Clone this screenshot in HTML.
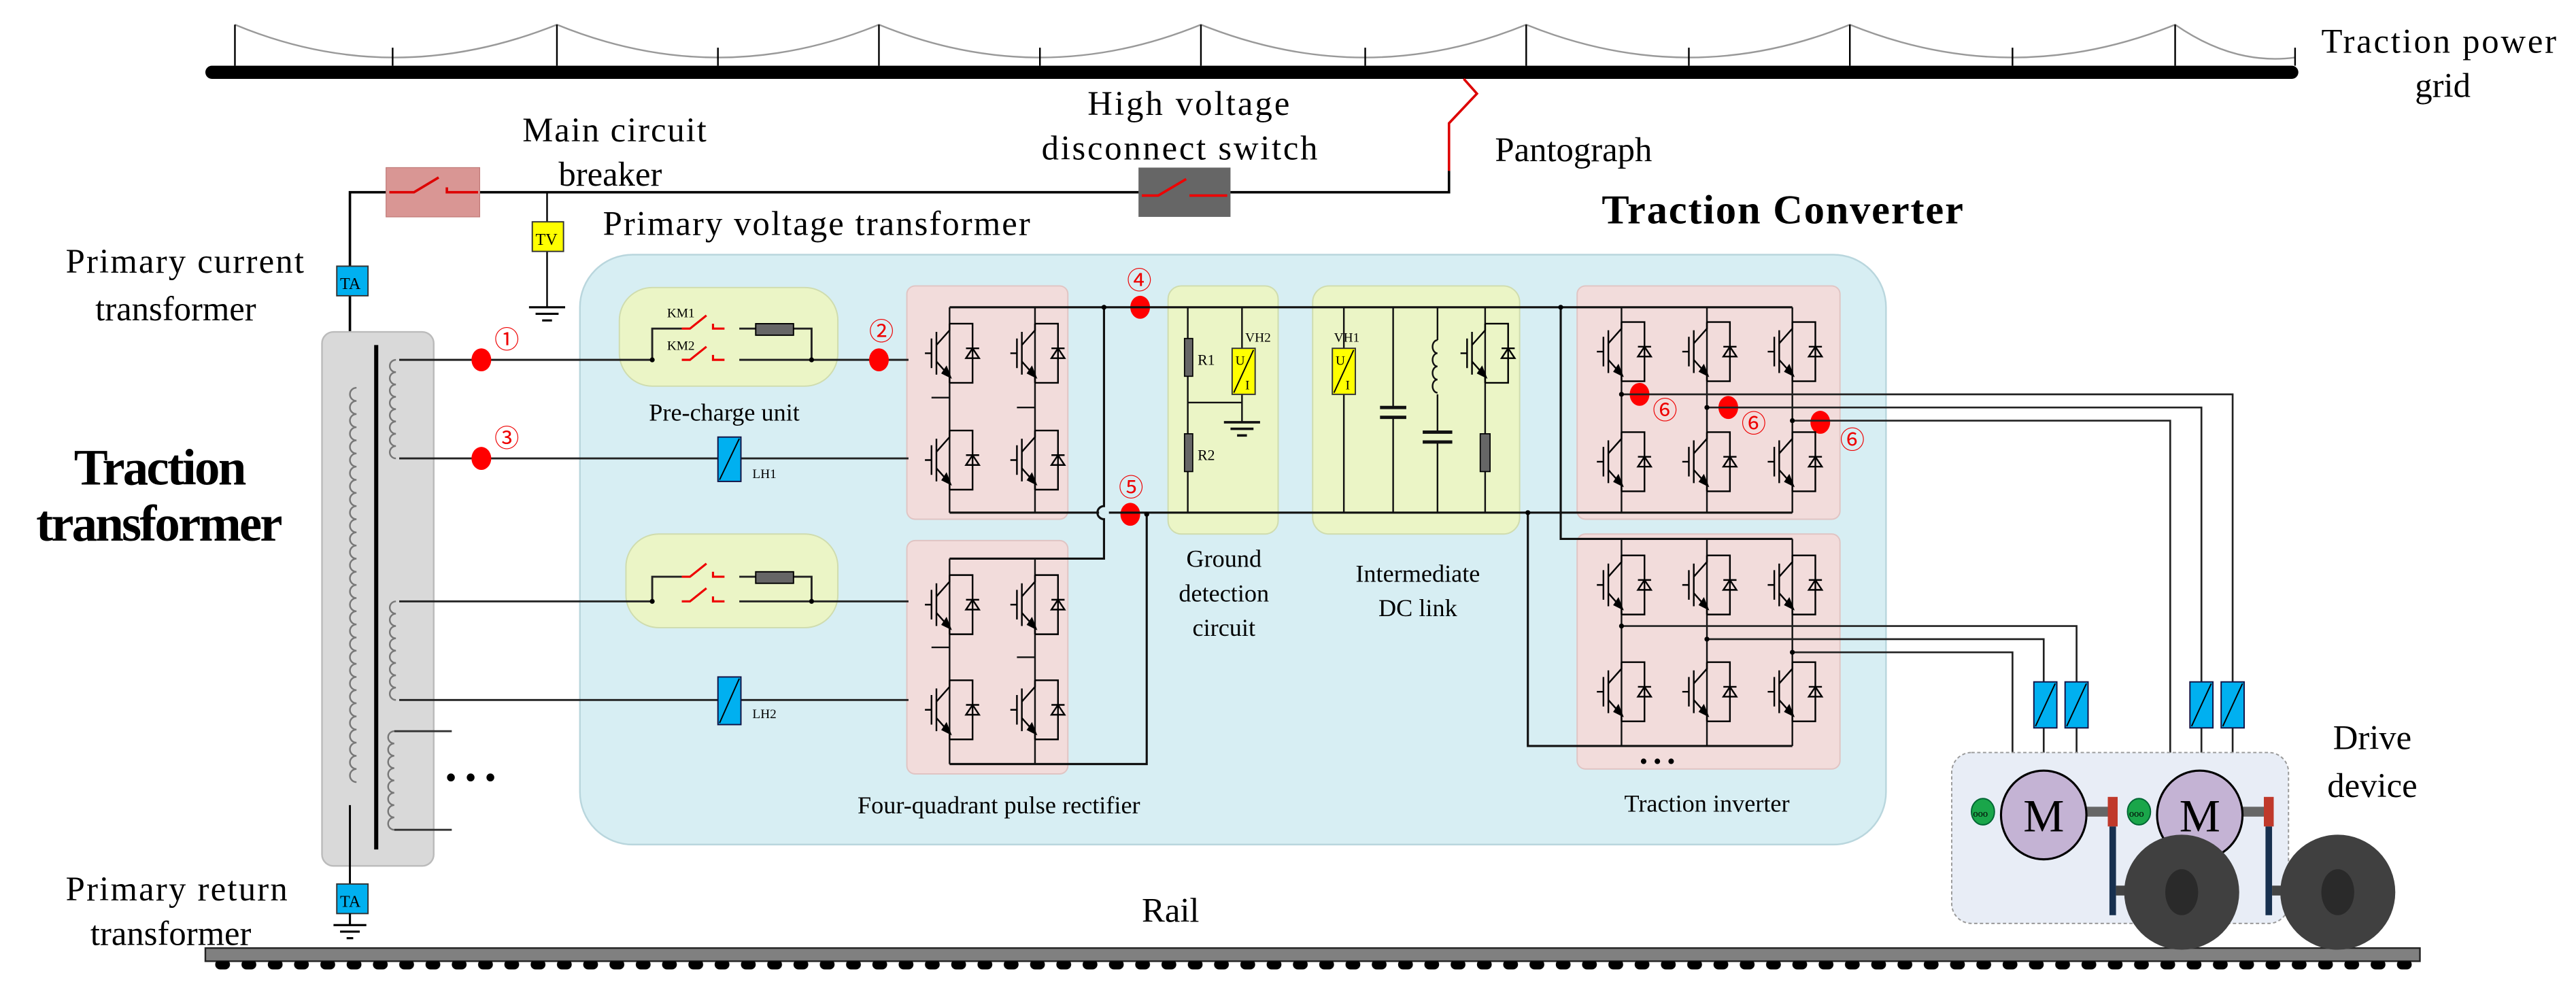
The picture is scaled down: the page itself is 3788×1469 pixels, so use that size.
<!DOCTYPE html>
<html><head><meta charset="utf-8"><style>
html,body{margin:0;padding:0;background:#fff;}
svg{display:block;}
text{font-family:"Liberation Serif",serif;fill:#000;}
.c{font-family:"Noto Sans CJK JP","DejaVu Sans",sans-serif;fill:#e00;font-size:15px;}
</style></head><body>
<svg width="3788" height="1469" viewBox="0 0 1568 608" preserveAspectRatio="none" xmlns="http://www.w3.org/2000/svg">
<defs>
<symbol id="ig" overflow="visible">
<g stroke="#000" stroke-width="1" fill="none">
<path d="M0,-18 H14 V18 H0"/>
<path d="M-8,-13 V13 M-11,-9 V9 M-15,0 H-11"/>
<path d="M-8,-5 L0,-14 V-18 M-8,5 L0,14 V18"/>
<path d="M10,-3 H18"/>
</g>
<path d="M10,3 L18,3 L14,-3 Z" fill="none" stroke="#000" stroke-width="1"/>
<path d="M-4,12 L0,14 L-2,9 Z" fill="#000" stroke="#000" stroke-width="1.5"/>
</symbol>
<pattern id="teeth" x="0" y="0" width="16" height="8" patternUnits="userSpaceOnUse">
<rect x="3" y="0" width="9" height="6" rx="3" fill="#000"/>
</pattern>
</defs>

<g stroke="#999" stroke-width="1" fill="none">
<path d="M143,15 Q239,55 339,15 Q437,55 535,15 Q633,55 731,15 Q831,55 929,15 Q1028,55 1126,15 Q1225,55 1324,15 Q1360,40 1397,35"/>
</g>
<g stroke="#000" stroke-width="1">
<path d="M143,15 V40 M339,15 V40 M535,15 V40 M731,15 V40 M929,15 V40 M1126,15 V40 M1324,15 V40"/>
<path d="M239,29 V40 M437,29 V40 M633,29 V40 M831,29 V40 M1028,29 V40 M1225,29 V40 M1397,29 V40"/>
</g>
<rect x="125" y="40" width="1274" height="8" rx="4" fill="#000"/>
<text x="1413" y="32" font-size="21" textLength="143">Traction power</text>
<text x="1470" y="59" font-size="21">grid</text>

<path d="M891,48 L899,57 L882,75 V104" stroke="#d00" stroke-width="1.5" fill="none"/>
<path d="M882,104 V117 H213 V490" stroke="#000" stroke-width="1.5" fill="none"/>
<text x="910" y="98" font-size="21">Pantograph</text>

<text x="318" y="86" font-size="21" textLength="112">Main circuit</text>
<text x="340" y="113" font-size="21">breaker</text>
<rect x="235" y="102" width="57" height="30" fill="#d99694" stroke="#c07a78" stroke-width="0.5"/>
<path d="M237,117 H252 L267,108 M272,114 V117 H291" stroke="#d00" stroke-width="1.5" fill="none"/>

<text x="662" y="70" font-size="21" textLength="123">High voltage</text>
<text x="634" y="97" font-size="21" textLength="168">disconnect switch</text>
<rect x="693" y="102" width="56" height="30" fill="#666"/>
<path d="M695,119 H705 L722,109 M724,119 H747" stroke="#e00" stroke-width="1.5" fill="none"/>

<path d="M333,117 V187" stroke="#000" stroke-width="1"/>
<rect x="324" y="135" width="19" height="18" fill="#ff0" stroke="#333" stroke-width="0.8"/>
<text x="326" y="149" font-size="10">TV</text>
<path d="M322,187 H344 M326,191 H340 M330,195 H336" stroke="#000" stroke-width="1.3"/>
<text x="367" y="143" font-size="21" textLength="260">Primary voltage transformer</text>

<text x="40" y="166" font-size="21" textLength="145">Primary current</text>
<text x="58" y="195" font-size="21">transformer</text>
<rect x="205" y="162" width="19" height="18" fill="#00b0f0" stroke="#333" stroke-width="0.8"/>
<text x="207" y="176" font-size="10">TA</text>

<rect x="353" y="155" width="795" height="359" rx="32" fill="#d7eef3" stroke="#b9d6dd" stroke-width="1"/>
<text x="975" y="136" font-size="25" font-weight="bold" textLength="220">Traction Converter</text>

<rect x="196" y="202" width="68" height="325" rx="7" fill="#d9d9d9" stroke="#bbb" stroke-width="1"/>
<path d="M229,210 V517" stroke="#000" stroke-width="2.5"/>
<path d="M213,490 V545" stroke="#000" stroke-width="1.2"/>
<path d="M217,236 a4,4 0 0 0 0,8 a4,4 0 0 0 0,8 a4,4 0 0 0 0,8 a4,4 0 0 0 0,8 a4,4 0 0 0 0,8 a4,4 0 0 0 0,8 a4,4 0 0 0 0,8 a4,4 0 0 0 0,8 a4,4 0 0 0 0,8 a4,4 0 0 0 0,8 a4,4 0 0 0 0,8 a4,4 0 0 0 0,8 a4,4 0 0 0 0,8 a4,4 0 0 0 0,8 a4,4 0 0 0 0,8 a4,4 0 0 0 0,8 a4,4 0 0 0 0,8 a4,4 0 0 0 0,8 a4,4 0 0 0 0,8 a4,4 0 0 0 0,8 a4,4 0 0 0 0,8 a4,4 0 0 0 0,8 a4,4 0 0 0 0,8 a4,4 0 0 0 0,8 a4,4 0 0 0 0,8 a4,4 0 0 0 0,8 a4,4 0 0 0 0,8 a4,4 0 0 0 0,8 a4,4 0 0 0 0,8 a4,4 0 0 0 0,8" stroke="#777" stroke-width="1" fill="none"/>
<g stroke="#777" stroke-width="1" fill="none">
<path d="M241,219 a3.75,3.75 0 0 0 0,7.5 a3.75,3.75 0 0 0 0,7.5 a3.75,3.75 0 0 0 0,7.5 a3.75,3.75 0 0 0 0,7.5 a3.75,3.75 0 0 0 0,7.5 a3.75,3.75 0 0 0 0,7.5 a3.75,3.75 0 0 0 0,7.5 a3.75,3.75 0 0 0 0,7.5"/>
<path d="M241,366 a3.75,3.75 0 0 0 0,7.5 a3.75,3.75 0 0 0 0,7.5 a3.75,3.75 0 0 0 0,7.5 a3.75,3.75 0 0 0 0,7.5 a3.75,3.75 0 0 0 0,7.5 a3.75,3.75 0 0 0 0,7.5 a3.75,3.75 0 0 0 0,7.5 a3.75,3.75 0 0 0 0,7.5"/>
<path d="M240,445 a3.75,3.75 0 0 0 0,7.5 a3.75,3.75 0 0 0 0,7.5 a3.75,3.75 0 0 0 0,7.5 a3.75,3.75 0 0 0 0,7.5 a3.75,3.75 0 0 0 0,7.5 a3.75,3.75 0 0 0 0,7.5 a3.75,3.75 0 0 0 0,7.5 a3.75,3.75 0 0 0 0,7.5"/>
</g>
<path d="M240,445 H275 M240,505 H275" stroke="#333" stroke-width="1.2"/>
<text x="271" y="480" font-size="20">• • •</text>

<text x="45" y="295" font-size="31" font-weight="bold" textLength="105">Traction</text>
<text x="22" y="329" font-size="31" font-weight="bold" textLength="150">transformer</text>

<rect x="205" y="538" width="19" height="18" fill="#00b0f0" stroke="#333" stroke-width="0.8"/>
<text x="207" y="552" font-size="10">TA</text>
<path d="M213,556 V563 M203,563 H223 M207,567 H219 M211,571 H215" stroke="#000" stroke-width="1.3"/>
<text x="40" y="548" font-size="21" textLength="135">Primary return</text>
<text x="55" y="575" font-size="21">transformer</text>

<rect x="125" y="577" width="1348" height="8" fill="#808080" stroke="#222" stroke-width="1"/>
<rect x="125" y="585" width="1348" height="6" fill="url(#teeth)"/>
<text x="695" y="561" font-size="21">Rail</text>

<rect x="377" y="175" width="133" height="60" rx="20" fill="#ebf5c6" stroke="#cfdcae" stroke-width="0.8"/>
<rect x="381" y="325" width="129" height="57" rx="20" fill="#ebf5c6" stroke="#cfdcae" stroke-width="0.8"/>
<text x="395" y="256" font-size="15">Pre-charge unit</text>

<rect x="552" y="174" width="98" height="142" rx="5" fill="#f2dcdb" stroke="#e0c4c3" stroke-width="0.8"/>
<rect x="552" y="329" width="98" height="142" rx="5" fill="#f2dcdb" stroke="#e0c4c3" stroke-width="0.8"/>
<rect x="960" y="174" width="160" height="142" rx="5" fill="#f2dcdb" stroke="#e0c4c3" stroke-width="0.8"/>
<rect x="960" y="325" width="160" height="143" rx="5" fill="#f2dcdb" stroke="#e0c4c3" stroke-width="0.8"/>
<rect x="711" y="174" width="67" height="151" rx="8" fill="#ebf5c6" stroke="#cfdcae" stroke-width="0.8"/>
<rect x="799" y="174" width="126" height="151" rx="10" fill="#ebf5c6" stroke="#cfdcae" stroke-width="0.8"/>

<text x="745" y="345" font-size="15" text-anchor="middle">Ground</text>
<text x="745" y="366" font-size="15" text-anchor="middle">detection</text>
<text x="745" y="387" font-size="15" text-anchor="middle">circuit</text>
<text x="863" y="354" font-size="15" text-anchor="middle">Intermediate</text>
<text x="863" y="375" font-size="15" text-anchor="middle">DC link</text>
<text x="608" y="495" font-size="15" text-anchor="middle">Four-quadrant pulse rectifier</text>
<text x="1039" y="494" font-size="15" text-anchor="middle">Traction inverter</text>
<text x="998" y="468" font-size="14">• • •</text>

<g stroke="#222" stroke-width="1.2" fill="none">
<path d="M243,219 H397 M450,219 H553"/>
<path d="M397,219 V200 H415 M450,200 H494 V219"/>
<path d="M243,279 H553"/>
<path d="M243,366 H397 M450,366 H553"/>
<path d="M397,366 V351 H415 M450,351 H494 V366"/>
<path d="M243,426 H553"/>
</g>
<g stroke="#e00" stroke-width="1.3" fill="none">
<path d="M415,200 H420 L430,192 M434,197 V200 H441"/>
<path d="M415,219 H420 L430,211 M434,216 V219 H441"/>
<path d="M415,351 H420 L430,343 M434,348 V351 H441"/>
<path d="M415,366 H420 L430,358 M434,363 V366 H441"/>
</g>
<rect x="460" y="197" width="23" height="7" fill="#666" stroke="#000" stroke-width="0.8"/>
<rect x="460" y="348" width="23" height="7" fill="#666" stroke="#000" stroke-width="0.8"/>
<text x="406" y="193" font-size="8">KM1</text>
<text x="406" y="213" font-size="8">KM2</text>
<g fill="#000"><circle cx="397" cy="219" r="1.5"/><circle cx="494" cy="219" r="1.5"/><circle cx="397" cy="366" r="1.5"/><circle cx="494" cy="366" r="1.5"/></g>

<rect x="437" y="266" width="14" height="27" fill="#00b0f0" stroke="#114" stroke-width="0.8"/>
<path d="M438,292 L450,267" stroke="#000" stroke-width="0.8"/>
<text x="458" y="291" font-size="8">LH1</text>
<rect x="437" y="412" width="14" height="29" fill="#00b0f0" stroke="#114" stroke-width="0.8"/>
<path d="M438,440 L450,413" stroke="#000" stroke-width="0.8"/>
<text x="458" y="437" font-size="8">LH2</text>

<g fill="#f00">
<ellipse cx="293" cy="219" rx="6" ry="7"/><ellipse cx="293" cy="279" rx="6" ry="7"/>
<ellipse cx="535" cy="219" rx="6" ry="7"/>
<ellipse cx="694" cy="187" rx="6" ry="7"/><ellipse cx="688" cy="313" rx="6" ry="7"/>
<ellipse cx="998" cy="240" rx="6" ry="7"/><ellipse cx="1052" cy="248" rx="6" ry="7"/><ellipse cx="1108" cy="257" rx="6" ry="7"/>
</g>
<text class="c" x="301" y="212">①</text>
<text class="c" x="301" y="272">③</text>
<text class="c" x="529" y="207">②</text>
<text class="c" x="686" y="176">④</text>
<text class="c" x="681" y="302">⑤</text>
<text class="c" x="1006" y="255">⑥</text>
<text class="c" x="1060" y="263">⑥</text>
<text class="c" x="1120" y="273">⑥</text>

<g stroke="#111" stroke-width="1.3" fill="none">
<path d="M578,187 H1091"/>
<path d="M578,312 H669 M675,312 H1091"/>
<path d="M672,187 V308 A4,4 0 0 0 672,316 V340 H578"/>
<path d="M698,313 V465 H578"/>
<path d="M950,187 V328 H1091"/>
<path d="M930,312 V454 H1091"/>
</g>
<g stroke="#111" stroke-width="1" fill="none">
<path d="M578,187 V312 M630,187 V312 M578,340 V465 M630,340 V465"/>
<path d="M567,242 H578 M619,248 H630 M567,394 H578 M619,400 H630"/>
<path d="M987,187 V312 M1039,187 V312 M1091,187 V312"/>
<path d="M987,328 V454 M1039,328 V454 M1091,328 V454"/>
</g>
<use href="#ig" x="578" y="215"/><use href="#ig" x="630" y="215"/>
<use href="#ig" x="578" y="280"/><use href="#ig" x="630" y="280"/>
<use href="#ig" x="578" y="368"/><use href="#ig" x="630" y="368"/>
<use href="#ig" x="578" y="432"/><use href="#ig" x="630" y="432"/>
<use href="#ig" x="987" y="214"/><use href="#ig" x="1039" y="214"/><use href="#ig" x="1091" y="214"/>
<use href="#ig" x="987" y="281"/><use href="#ig" x="1039" y="281"/><use href="#ig" x="1091" y="281"/>
<use href="#ig" x="987" y="356"/><use href="#ig" x="1039" y="356"/><use href="#ig" x="1091" y="356"/>
<use href="#ig" x="987" y="421"/><use href="#ig" x="1039" y="421"/><use href="#ig" x="1091" y="421"/>
<g fill="#000"><circle cx="672" cy="187" r="1.5"/><circle cx="698" cy="313" r="1.5"/><circle cx="950" cy="187" r="1.5"/><circle cx="930" cy="312" r="1.5"/></g>

<g stroke="#111" stroke-width="1" fill="none">
<path d="M723,187 V312 M756,187 V257 M723,245 H756"/>
<path d="M745,257 H767 M749,261 H763 M753,265 H759" stroke-width="1.5"/>
</g>
<rect x="721" y="206" width="5" height="23" fill="#666" stroke="#000" stroke-width="0.7"/>
<rect x="721" y="264" width="5" height="23" fill="#666" stroke="#000" stroke-width="0.7"/>
<text x="729" y="222" font-size="9">R1</text><text x="729" y="280" font-size="9">R2</text>
<rect x="750" y="212" width="14" height="28" fill="#ff0" stroke="#333" stroke-width="0.8"/>
<path d="M751,239 L763,213" stroke="#000" stroke-width="0.8"/>
<text x="752" y="222" font-size="8">U</text><text x="758" y="237" font-size="8">I</text>
<text x="758" y="208" font-size="8">VH2</text>

<g stroke="#111" stroke-width="1" fill="none">
<path d="M818,187 V312 M848,187 V248 M848,254 V312 M875,187 V207 M875,240 V263 M875,269 V312 M904,187 V264 M904,287 V312"/>
<path d="M840,248 H856 M840,254 H856 M866,263 H884 M866,269 H884" stroke-width="2"/>
<path d="M875,207 a3,4 0 0 0 0,8 a3,4 0 0 0 0,8 a3,4 0 0 0 0,8 a3,4 0 0 0 0,8"/>
</g>
<use href="#ig" x="904" y="215"/>
<rect x="901" y="264" width="6" height="23" fill="#666" stroke="#000" stroke-width="0.7"/>
<rect x="811" y="212" width="14" height="28" fill="#ff0" stroke="#333" stroke-width="0.8"/>
<path d="M812,239 L824,213" stroke="#000" stroke-width="0.8"/>
<text x="813" y="222" font-size="8">U</text><text x="819" y="237" font-size="8">I</text>
<text x="812" y="208" font-size="8">VH1</text>

<g stroke="#222" stroke-width="1.1" fill="none">
<path d="M987,240 H1359 V458 L1354,472"/>
<path d="M1039,248 H1340 V470"/>
<path d="M1091,256 H1321 V460 L1326,472"/>
<path d="M987,381 H1264 V458 L1259,472"/>
<path d="M1039,389 H1244 V470"/>
<path d="M1091,397 H1225 V460 L1230,472"/>
</g>
<g fill="#000"><circle cx="987" cy="381" r="1.5"/><circle cx="1039" cy="389" r="1.5"/><circle cx="1091" cy="397" r="1.5"/><circle cx="987" cy="240" r="1.5"/><circle cx="1039" cy="248" r="1.5"/><circle cx="1091" cy="256" r="1.5"/></g>

<rect x="1188" y="458" width="205" height="104" rx="12" fill="#e8edf6" stroke="#999" stroke-width="0.8" stroke-dasharray="2,1.5"/>
<text x="1444" y="456" font-size="21" text-anchor="middle">Drive</text>
<text x="1444" y="485" font-size="21" text-anchor="middle">device</text>
<g>
<rect x="1238" y="415" width="14" height="28" fill="#00b0f0" stroke="#114" stroke-width="0.8"/>
<rect x="1257" y="415" width="14" height="28" fill="#00b0f0" stroke="#114" stroke-width="0.8"/>
<rect x="1333" y="415" width="14" height="28" fill="#00b0f0" stroke="#114" stroke-width="0.8"/>
<rect x="1352" y="415" width="14" height="28" fill="#00b0f0" stroke="#114" stroke-width="0.8"/>
<path d="M1239,442 L1251,416 M1258,442 L1270,416 M1334,442 L1346,416 M1353,442 L1365,416" stroke="#000" stroke-width="0.8"/>
</g>
<rect x="1268" y="491" width="16" height="6" fill="#666"/>
<rect x="1363" y="491" width="16" height="6" fill="#666"/>
<rect x="1283" y="485" width="6" height="18" fill="#c0392b"/>
<rect x="1378" y="485" width="6" height="18" fill="#c0392b"/>
<rect x="1284" y="503" width="4" height="54" fill="#17304f"/>
<rect x="1379" y="503" width="4" height="54" fill="#17304f"/>
<rect x="1288" y="539" width="8" height="6" fill="#444"/>
<rect x="1383" y="539" width="8" height="6" fill="#444"/>
<ellipse cx="1244" cy="496" rx="26" ry="27" fill="#c4b3d4" stroke="#000" stroke-width="1.3"/>
<ellipse cx="1339" cy="496" rx="26" ry="27" fill="#c4b3d4" stroke="#000" stroke-width="1.3"/>
<text x="1244" y="506" font-size="28" text-anchor="middle">M</text>
<text x="1339" y="506" font-size="28" text-anchor="middle">M</text>
<ellipse cx="1207" cy="494" rx="7" ry="8" fill="#1aa64a" stroke="#063" stroke-width="0.8"/>
<ellipse cx="1302" cy="494" rx="7" ry="8" fill="#1aa64a" stroke="#063" stroke-width="0.8"/>
<text x="1201" y="497" font-size="6">ooo</text><text x="1296" y="497" font-size="6">ooo</text>
<ellipse cx="1328" cy="543" rx="35" ry="35" fill="#404040"/>
<ellipse cx="1328" cy="543" rx="10" ry="14" fill="#2a2a2a"/>
<ellipse cx="1423" cy="543" rx="35" ry="35" fill="#404040"/>
<ellipse cx="1423" cy="543" rx="10" ry="14" fill="#2a2a2a"/>
</svg>
</body></html>
